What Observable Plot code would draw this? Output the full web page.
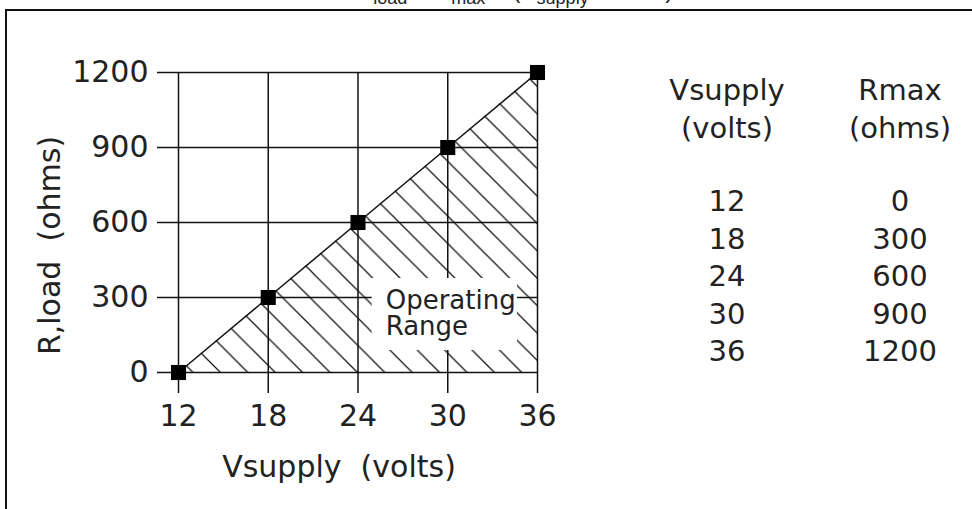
<!DOCTYPE html>
<html>
<head>
<meta charset="utf-8">
<script src="https://cdn.jsdelivr.net/npm/d3@7"></script>
<script src="https://cdn.jsdelivr.net/npm/@observablehq/plot@0.6"></script>
<style>
  body { margin: 0; background: #fff; }
  #wrap { position: relative; width: 972px; height: 509px; overflow: hidden; background: #fff; font-family: "DejaVu Sans", sans-serif; color: #222; }
  #frame { position: absolute; left: 5px; top: 9px; width: 980px; height: 520px; border-top: 2px solid #111; border-left: 2px solid #111; }
  #title { position: absolute; left: 0; top: 0; }
  #chart { position: absolute; left: 0; top: 0; }
  .cell { position: absolute; width: 200px; margin-left: -100px; text-align: center; font-size: 29px; line-height: 1; white-space: pre; }
</style>
</head>
<body>
<div id="wrap">
  <div id="frame"></div>
  <svg id="title" width="972" height="20"></svg>
  <div id="chart"></div>
  <div id="table"></div>
</div>
<script>
// ---- data ----
const vsupply = [12, 18, 24, 30, 36];
const rmax = [0, 300, 600, 900, 1200];
const xTicks = [12, 18, 24, 30, 36];
const yTicks = [0, 300, 600, 900, 1200];
const xLabel = "Vsupply  (volts)";
const yLabel = "R,load  (ohms)";
const noteText = "Operating\nRange";
const noteAt = [25.85, 237];           // annotation anchor (volts, ohms)
const noteBoxV = [24.95, 34.66];       // knockout box extent (volts)
const noteBoxR = [88, 376];            // knockout box extent (ohms)
const tableHead = [["Vsupply", "(volts)"], ["Rmax", "(ohms)"]];
const titleParts = [["R", "load"], [" ≤ R", "max"], [" = (V", "supply"], [" − 12 V)", ""]];

const data = vsupply.map((v, i) => ({v, r: rmax[i]}));

// ---- clipped title at the very top ----
const tsvg = document.getElementById("title");
let tx = `<text x="356" y="-2" font-family="Liberation Sans" font-size="24" fill="#222">`;
for (const [main, sub] of titleParts) {
  tx += `<tspan y="-2">${main}</tspan>`;
  if (sub) tx += `<tspan y="4" font-size="18">${sub}</tspan>`;
}
tx += `</text>`;
tsvg.innerHTML = tx;

// ---- hatch pattern defs ----
const hatchDefs = () => {
  const ns = "http://www.w3.org/2000/svg";
  const defs = document.createElementNS(ns, "defs");
  const w = 27.4;
  defs.innerHTML = `<pattern id="hatch" patternUnits="userSpaceOnUse" width="${w}" height="${w}" x="12.4" y="0">
    <path d="M-1,-1 L${w + 1},${w + 1} M${w - 1},-1 L${w + 1},1 M-1,${w - 1} L1,${w + 1}" stroke="#111" stroke-width="1.25" fill="none"/>
  </pattern>`;
  return defs;
};

const plot = Plot.plot({
  width: 972,
  height: 509,
  marginLeft: 178,
  marginRight: 435,
  marginTop: 72,
  marginBottom: 137,
  x: {domain: [12, 36]},
  y: {domain: [0, 1200]},
  style: {fontFamily: "DejaVu Sans", fontSize: "30px", color: "#222", background: "transparent", overflow: "visible"},
  marks: [
    hatchDefs,
    Plot.areaY(data, {x: "v", y: "r", fill: "url(#hatch)"}),
    Plot.ruleY(yTicks, {stroke: "#111", strokeWidth: 1.5}),
    Plot.ruleX(xTicks, {stroke: "#111", strokeWidth: 1.5}),
    Plot.axisY({ticks: yTicks, tickFormat: d => String(d), tickSize: 21, tickPadding: 9, label: null, stroke: "#111", strokeWidth: 1.5, fontSize: 30}),
    Plot.axisX({ticks: xTicks, tickFormat: d => String(d), tickSize: 21, tickPadding: 11, label: null, stroke: "#111", strokeWidth: 1.5, fontSize: 30}),
    Plot.rect([0], {x1: () => noteBoxV[0], x2: () => noteBoxV[1], y1: () => noteBoxR[0], y2: () => noteBoxR[1], fill: "white"}),
    Plot.text([noteText], {x: () => noteAt[0], y: () => noteAt[1], text: d => d, textAnchor: "start", lineAnchor: "middle", fontSize: 26, fill: "#222"}),
    Plot.line(data, {x: "v", y: "r", stroke: "#111", strokeWidth: 1.5}),
    Plot.dot(data, {x: "v", y: "r", symbol: "square", r: 8.5, fill: "#000", stroke: "none"}),
    Plot.text([xLabel], {frameAnchor: "bottom", text: d => d, textAnchor: "middle", dx: -19, dy: 104, fontSize: 30, fill: "#222"}),
    Plot.text([yLabel], {frameAnchor: "left", text: d => d, textAnchor: "middle", rotate: -90, dx: -128, dy: 23, fontSize: 30, fill: "#222"})
  ]
});
document.getElementById("chart").appendChild(plot);

// ---- right-hand value table ----
const table = document.getElementById("table");
const colX = [727, 900];
const headY = [76, 114];
const rowY0 = 187, rowStep = 37.5;
function cell(text, x, y) {
  const d = document.createElement("div");
  d.className = "cell";
  d.textContent = text;
  d.style.left = x + "px";
  d.style.top = y + "px";
  table.appendChild(d);
}
tableHead.forEach((h, c) => h.forEach((t, k) => cell(t, colX[c], headY[k])));
vsupply.forEach((v, i) => {
  cell(String(v), colX[0], rowY0 + i * rowStep);
  cell(String(rmax[i]), colX[1], rowY0 + i * rowStep);
});
</script>
</body>
</html>
